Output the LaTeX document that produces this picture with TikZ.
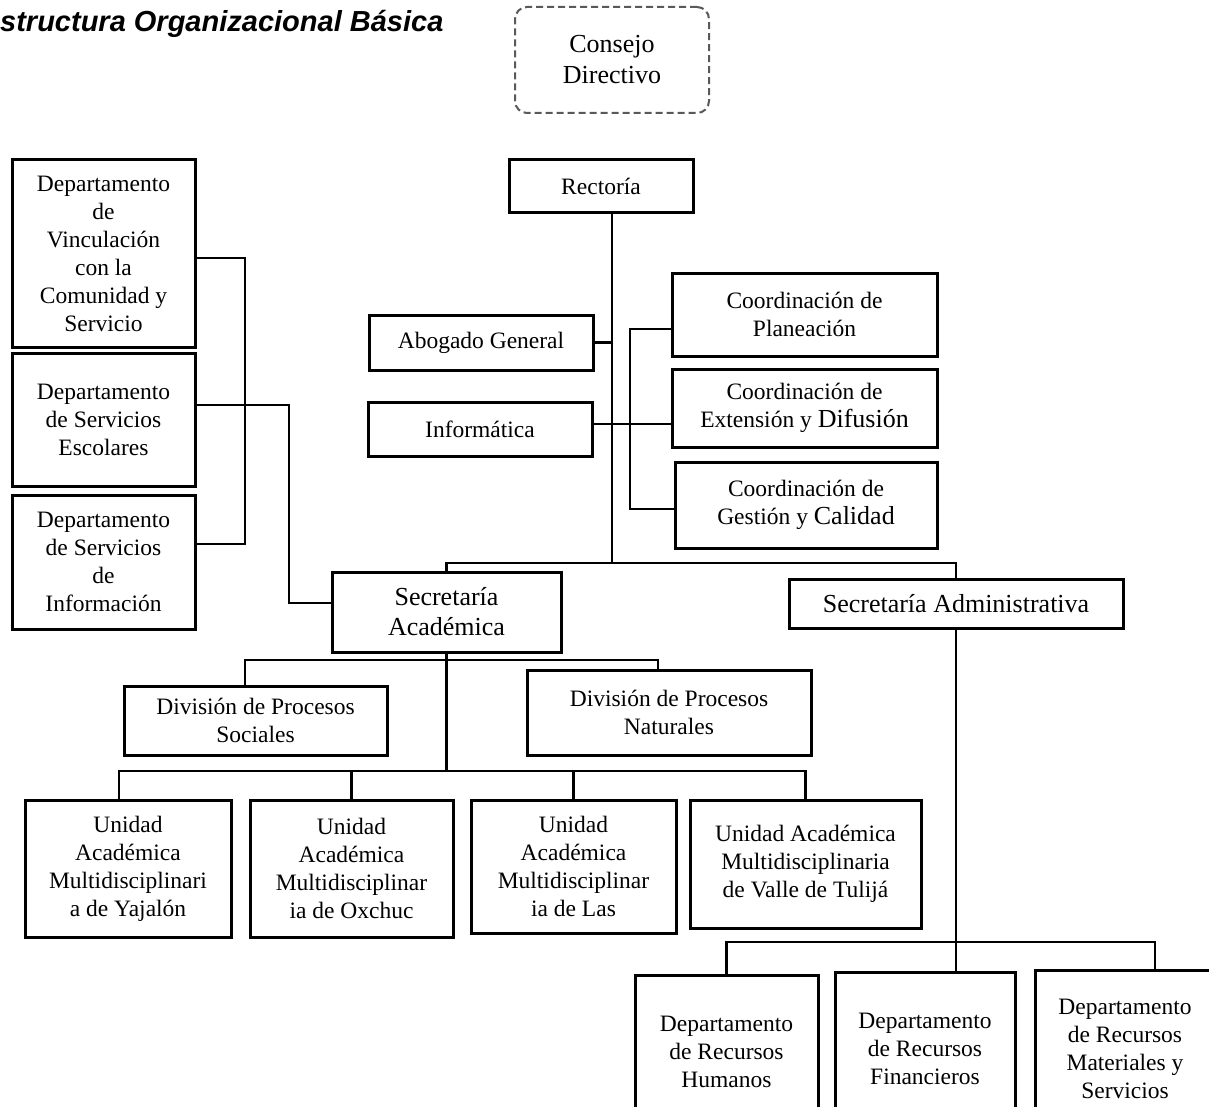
\documentclass[tikz,border=0pt]{standalone}
\usepackage{fontspec}
\setmainfont{Liberation Serif}
\newfontfamily\titlefont{Liberation Sans}
\usepackage{tikz}
\tikzstyle{Office}=[shape=rectangle, fill=white, line width = 3pt, draw=black, align=center, inner sep=2pt, font=\fontsize{23.5}{28}\selectfont]
\tikzstyle{Secretary}=[shape=rectangle, fill=white, line width = 3pt, draw=black, align=center, inner sep=2pt, font=\fontsize{26}{30}\selectfont]
\tikzstyle{Council}=[shape=rectangle, fill=white, line width = 2pt, draw=black!65, dash pattern=on 7pt off 4pt, rounded corners=12pt, align=center, font=\fontsize{26}{31}\selectfont]
\tikzstyle{link}=[line width = 2.8pt, draw=black]
\pgfdeclarelayer{nodelayer}
\pgfdeclarelayer{edgelayer}
\pgfsetlayers{main, edgelayer, nodelayer}
\begin{document}
\begin{tikzpicture}[x=1pt, y=-1pt]
	\fill [white] (0, 0) rectangle (1209, 1107);
	\useasboundingbox (0, 0) rectangle (1209, 1107);
	\begin{pgfonlayer}{nodelayer}
		% top
		\node [anchor=base west, inner sep=0pt, font=\titlefont\fontsize{29}{34}\bfseries\itshape\selectfont] (title) at (0, 32) {structura Organizacional Básica};
		\node [style=Council, minimum width=194pt, minimum height=106pt] (consejo) at (612, 60) {Consejo\\Directivo};
		\node [style=Office, minimum width=184pt, minimum height=53pt] (rectoria) at (601, 186.5) {Rectoría};
		% staff offices
		\node [style=Office, minimum width=224pt, minimum height=55pt] (abogado) at (481, 342.5) {Abogado General};
		\node [style=Office, minimum width=224pt, minimum height=54pt] (informatica) at (480, 429) {Informática};
		\node [style=Office, minimum width=265pt, minimum height=83pt] (planeacion) at (804.5, 314.5) {Coordinación de\\Planeación};
		\node [style=Office, minimum width=265pt, minimum height=78pt] (extension) at (804.5, 408) {Coordinación de\\Extensión y {\fontsize{26}{28}\selectfont Difusión}};
		\node [style=Office, minimum width=262pt, minimum height=86pt] (gestion) at (806, 505) {Coordinación de\\Gestión y {\fontsize{26}{28}\selectfont Calidad}};
		% left departments
		\node [style=Office, minimum width=183pt, minimum height=187pt] (vinculacion) at (103.5, 253.5) {Departamento\\de\\Vinculación\\con la\\Comunidad y\\Servicio};
		\node [style=Office, minimum width=183pt, minimum height=133pt] (escolares) at (103.5, 419.5) {Departamento\\de Servicios\\Escolares};
		\node [style=Office, minimum width=183pt, minimum height=134pt] (informacion) at (103.5, 562) {Departamento\\de Servicios\\de\\Información};
		% secretaries
		\node [style=Secretary, minimum width=229pt, minimum height=80pt] (secacad) at (446.5, 612) {Secretaría\\Académica};
		\node [style=Secretary, minimum width=334pt, minimum height=49pt] (secadmin) at (956, 603.5) {Secretaría Administrativa};
		% divisions
		\node [style=Office, minimum width=263pt, minimum height=69pt] (divsoc) at (255.5, 720.5) {División de Procesos\\Sociales};
		\node [style=Office, minimum width=284pt, minimum height=85pt] (divnat) at (669, 712.5) {División de Procesos\\Naturales};
		% academic units
		\node [style=Office, minimum width=206pt, minimum height=137pt] (yajalon) at (128, 868.5) {Unidad\\Académica\\Multidisciplinari\\a de Yajalón};
		\node [style=Office, minimum width=203pt, minimum height=137pt] (oxchuc) at (351.5, 868.5) {Unidad\\Académica\\Multidisciplinar\\ia de Oxchuc};
		\node [style=Office, minimum width=205pt, minimum height=133pt] (las) at (573.5, 866.5) {Unidad\\Académica\\Multidisciplinar\\ia de Las};
		\node [style=Office, minimum width=231pt, minimum height=128pt] (valle) at (805.5, 864) {Unidad Académica\\Multidisciplinaria\\de Valle de Tulijá};
		% resources
		\node [style=Office, minimum width=183pt, minimum height=154pt] (humanos) at (726.5, 1052) {Departamento\\de Recursos\\Humanos};
		\node [style=Office, minimum width=180pt, minimum height=154pt] (financieros) at (925, 1049) {Departamento\\de Recursos\\Financieros};
		\node [style=Office, minimum width=180pt, minimum height=158pt] (materiales) at (1125, 1049) {Departamento\\de Recursos\\Materiales y\\Servicios};
	\end{pgfonlayer}
	\begin{pgfonlayer}{edgelayer}
		\coordinate (trunk) at (612, 563);
		\coordinate (cbar) at (630, 420);
		\coordinate (lbar) at (245, 400);
		\coordinate (sbar) at (289, 603);
		\coordinate (dbar) at (446, 660);
		\coordinate (ubar) at (446, 771);
		\coordinate (rbar) at (955, 942);
		% rectoria
		\draw [style=link] (rectoria.south -| trunk) to (trunk);
		\draw [style=link] (abogado.east) to (abogado.east -| trunk);
		\draw [style=link] ([yshift=5pt]informatica.east) to ([yshift=5pt]informatica.east -| extension.west);
		\draw [style=link] ([yshift=-14.5pt]planeacion.west) -| (cbar) |- ([yshift=-4pt]gestion.west);
		\draw [style=link] (secacad.north) |- (trunk) -| (secadmin.north);
		% left departments
		\draw [style=link] ([yshift=-4.5pt]vinculacion.east) -| (lbar) |- ([yshift=18pt]informacion.east);
		\draw [style=link] ([yshift=14.5pt]escolares.east) -| (sbar) to ([yshift=9pt]secacad.west);
		% academic side
		\draw [style=link] (secacad.south) to (secacad.south |- ubar);
		\draw [style=link] ([xshift=-10.5pt]divsoc.north) |- (dbar) -| ([xshift=-11pt]divnat.north);
		\draw [style=link] ([xshift=-9pt]yajalon.north) |- (ubar) -| (valle.north);
		\draw [style=link] (oxchuc.north) to (oxchuc.north |- ubar);
		\draw [style=link] (las.north) to (las.north |- ubar);
		% administrative side
		\draw [style=link] (secadmin.south) to (secadmin.south |- financieros.north);
		\draw [style=link] (humanos.north) |- (rbar) -| ([xshift=30pt]materiales.north);
	\end{pgfonlayer}
\end{tikzpicture}
\end{document}
